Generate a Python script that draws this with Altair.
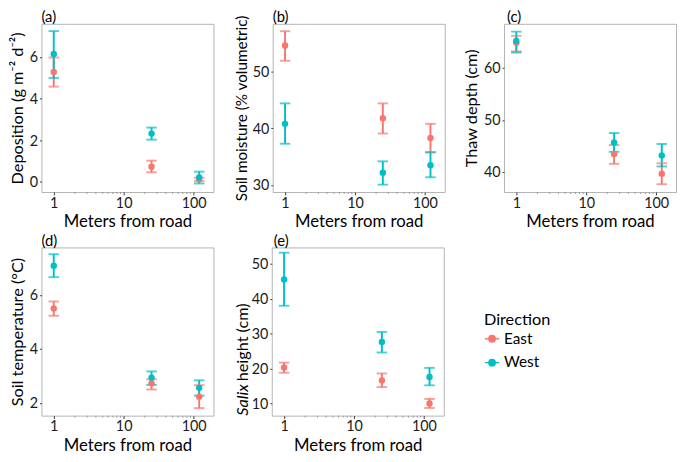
import altair as alt
import pandas as pd

distance = [1, 25, 120]
directions = ["East", "West"]
colors = ["#F8766D", "#00BFC4"]
major_ticks = [1, 10, 100]
minor_ticks = [2, 3, 4, 5, 6, 7, 8, 9, 20, 30, 40, 50, 60, 70, 80, 90]

# (a) Deposition
dep_east = [5.28, 0.73, 0.12]
dep_east_lo = [4.58, 0.46, 0.03]
dep_east_hi = [5.98, 1.02, 0.20]
dep_west = [6.15, 2.32, 0.21]
dep_west_lo = [5.00, 2.03, -0.08]
dep_west_hi = [7.25, 2.61, 0.49]

# (b) Soil moisture
sm_east = [54.6, 41.8, 38.3]
sm_east_lo = [51.9, 39.1, 35.8]
sm_east_hi = [57.1, 44.4, 40.8]
sm_west = [40.8, 32.2, 33.5]
sm_west_lo = [37.3, 30.1, 31.4]
sm_west_hi = [44.4, 34.2, 35.8]

# (c) Thaw depth
td_east = [64.8, 43.5, 39.7]
td_east_lo = [63.1, 41.6, 37.7]
td_east_hi = [66.1, 45.2, 41.7]
td_west = [65.1, 45.7, 43.2]
td_west_lo = [62.9, 43.9, 41.1]
td_west_hi = [66.9, 47.5, 45.4]

# (d) Soil temperature
st_east = [5.50, 2.73, 2.23]
st_east_lo = [5.23, 2.50, 1.81]
st_east_hi = [5.76, 2.88, 2.66]
st_west = [7.08, 2.94, 2.56]
st_west_lo = [6.66, 2.67, 2.27]
st_west_hi = [7.51, 3.17, 2.84]

# (e) Salix height
sh_east = [20.3, 16.6, 10.0]
sh_east_lo = [18.8, 14.7, 8.7]
sh_east_hi = [21.7, 18.6, 11.3]
sh_west = [45.5, 27.6, 17.6]
sh_west_lo = [38.0, 24.6, 15.2]
sh_west_hi = [53.2, 30.5, 20.2]

W, H = 180, 176


def make_df(e, elo, ehi, w, wlo, whi):
    rows = []
    for i, d in enumerate(distance):
        rows.append({"dist": d, "Direction": "East", "mean": e[i], "lo": elo[i], "hi": ehi[i]})
        rows.append({"dist": d, "Direction": "West", "mean": w[i], "lo": wlo[i], "hi": whi[i]})
    return pd.DataFrame(rows)


def panel(df, label, ytitle, ydomain, yticks, italic_title=None, ytitle_size=17, label_dx=0):
    xs = alt.Scale(type="log", domain=[0.667, 192], nice=False)
    ys = alt.Scale(domain=ydomain, nice=False, zero=False)
    xaxis = alt.Axis(values=major_ticks, format="d", title="Meters from road",
                     tickSize=3, labelPadding=1, titlePadding=3, titleFontSize=17.5)
    yaxis = alt.Axis(values=yticks, title=ytitle, tickSize=2, labelPadding=2,
                     titlePadding=3, titleFontSize=ytitle_size)
    color = alt.Color("Direction:N", scale=alt.Scale(domain=directions, range=colors),
                      title="Direction")
    stroke = alt.Stroke("Direction:N", scale=alt.Scale(domain=directions, range=colors),
                        title="Direction")
    base = alt.Chart(df)
    X = alt.X("dist:Q", scale=xs, axis=xaxis)
    rule = base.mark_rule(strokeWidth=2).encode(
        x=X, y=alt.Y("lo:Q", scale=ys, axis=yaxis), y2="hi:Q", stroke=stroke)
    cap_lo = base.mark_tick(orient="horizontal", size=11, thickness=2).encode(
        x=X, y=alt.Y("lo:Q", scale=ys, axis=yaxis), color=color)
    cap_hi = base.mark_tick(orient="horizontal", size=11, thickness=2).encode(
        x=X, y=alt.Y("hi:Q", scale=ys, axis=yaxis), color=color)
    pts = base.mark_point(filled=True, size=45, opacity=1, strokeWidth=0.01).encode(
        x=X, y=alt.Y("mean:Q", scale=ys, axis=yaxis), color=color, stroke=stroke)
    mdf = pd.DataFrame({"m": minor_ticks})
    minor = alt.Chart(mdf).mark_rule(color="#999999", strokeWidth=1).encode(
        x=alt.X("m:Q", scale=xs, axis=xaxis), y=alt.value(H), y2=alt.value(H + 2))
    ldf = pd.DataFrame({"lab": [label]})
    lab = alt.Chart(ldf).mark_text(align="left", baseline="alphabetic", fontSize=15.5,
                                   color="black").encode(
        text="lab:N", x=alt.value(label_dx), y=alt.value(-2))
    layers = [rule, cap_lo, cap_hi, pts, minor, lab]
    if italic_title:
        tdf = pd.DataFrame({"a": [italic_title[0]], "b": [italic_title[1]]})
        t1 = alt.Chart(tdf).mark_text(angle=270, align="left", baseline="middle",
                                      fontStyle="italic", fontSize=17, color="black").encode(
            text="a:N", x=alt.value(-30), y=alt.value(H))
        t2 = alt.Chart(tdf).mark_text(angle=270, align="left", baseline="middle",
                                      fontSize=17, color="black").encode(
            text="b:N", x=alt.value(-30), y=alt.value(H - 36))
        layers += [t1, t2]
    return alt.layer(*layers).properties(width=W, height=H)


pa = panel(make_df(dep_east, dep_east_lo, dep_east_hi, dep_west, dep_west_lo, dep_west_hi),
           "(a)", "Deposition (g m⁻² d⁻²)", [-0.49, 7.6], [0, 2, 4, 6])
pb = panel(make_df(sm_east, sm_east_lo, sm_east_hi, sm_west, sm_west_lo, sm_west_hi),
           "(b)", "Soil moisture (% volumetric)", [28.8, 58.4], [30, 40, 50], ytitle_size=16)
pc = panel(make_df(td_east, td_east_lo, td_east_hi, td_west, td_west_lo, td_west_hi),
           "(c)", "Thaw depth (cm)", [36.2, 68.4], [40, 50, 60], label_dx=3)
pd_ = panel(make_df(st_east, st_east_lo, st_east_hi, st_west, st_west_lo, st_west_hi),
            "(d)", "Soil temperature (°C)", [1.53, 7.76], [2, 4, 6])
pe = panel(make_df(sh_east, sh_east_lo, sh_east_hi, sh_west, sh_west_lo, sh_west_hi),
           "(e)", " ", [6.5, 54.7], [10, 20, 30, 40, 50],
           italic_title=("Salix", "height (cm)"), label_dx=2)

row1 = alt.hconcat(alt.hconcat(pa, pb, spacing=20), pc, spacing=18)
row2 = alt.hconcat(pd_, pe, spacing=17)
chart = alt.vconcat(row1, row2, spacing=3).properties(
    padding={"left": 0, "top": -9, "right": 0, "bottom": 0}
).configure(font="Lato").configure_axis(
    labelFontSize=15, titleFontSize=17, labelColor="#1a1a1a", titleColor="black",
    tickColor="#333333", domain=False, grid=False, titleFontWeight="normal"
).configure_view(stroke="#b0b0b0", strokeWidth=1).configure_legend(
    orient="none", legendX=463, legendY=302, titleFontSize=17, labelFontSize=16,
    titleFontWeight="normal", titleColor="black", labelColor="black", titlePadding=2,
    symbolType="M-1,0H1M0.45,0A0.45,0.45,0,1,1,-0.45,0A0.45,0.45,0,1,1,0.45,0Z",
    symbolSize=220, symbolStrokeWidth=1.5, symbolOpacity=1, rowPadding=8
)

chart.save("out.html", embed_options={"renderer": "svg", "actions": False})
